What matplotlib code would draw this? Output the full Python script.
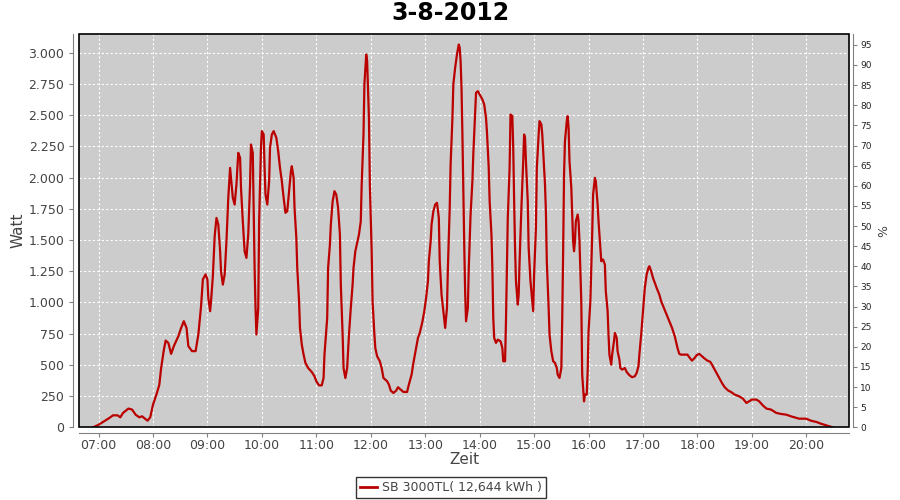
import matplotlib
matplotlib.use("Agg")
import matplotlib.pyplot as plt
import matplotlib.dates as mdates
import matplotlib.ticker as mticker
from matplotlib.lines import Line2D
from matplotlib.patches import Rectangle
from datetime import datetime

title = "3-8-2012"
seriesName = "SB 3000TL( 12,644 kWh )"
day = "2012-08-03"

#readings of the inverter, time of day and watt
times = ["06:54", "07:00", "07:06", "07:12", "07:16", "07:21", "07:24", "07:27", "07:33", "07:37",
         "07:41", "07:45", "07:48", "07:51", "07:54", "07:57", "08:00", "08:04", "08:07", "08:09",
         "08:12", "08:14", "08:17", "08:20", "08:23", "08:28", "08:31", "08:34", "08:37", "08:39",
         "08:43", "08:47", "08:50", "08:53", "08:55", "08:58", "09:00", "09:01", "09:03", "09:04",
         "09:06", "09:08", "09:10", "09:12", "09:14", "09:15", "09:17", "09:19", "09:21", "09:23",
         "09:25", "09:26", "09:28", "09:30", "09:32", "09:34", "09:36", "09:37", "09:39", "09:41",
         "09:43", "09:45", "09:47", "09:48", "09:50", "09:51", "09:52", "09:53", "09:54", "09:56",
         "09:57", "09:59", "10:00", "10:02", "10:03", "10:04", "10:06", "10:08", "10:09", "10:11",
         "10:13", "10:16", "10:18", "10:20", "10:22", "10:24", "10:26", "10:28", "10:30", "10:32",
         "10:33", "10:35", "10:36", "10:38", "10:39", "10:41", "10:42", "10:44", "10:46", "10:48",
         "10:51", "10:55", "10:58", "11:00", "11:03", "11:06", "11:08", "11:09", "11:12", "11:13",
         "11:15", "11:16", "11:18", "11:20", "11:22", "11:24", "11:26", "11:27", "11:29", "11:30",
         "11:32", "11:34", "11:36", "11:38", "11:40", "11:41", "11:43", "11:45", "11:47", "11:49",
         "11:50", "11:52", "11:53", "11:55", "11:56", "11:58", "11:59", "12:01", "12:02", "12:04",
         "12:05", "12:07", "12:10", "12:12", "12:14", "12:18", "12:20", "12:22", "12:25", "12:28",
         "12:30", "12:33", "12:36", "12:40", "12:42", "12:45", "12:47", "12:50", "12:52", "12:54",
         "12:57", "12:59", "13:01", "13:03", "13:04", "13:06", "13:07", "13:09", "13:11", "13:13",
         "13:15", "13:16", "13:18", "13:20", "13:22", "13:24", "13:25", "13:27", "13:28", "13:30",
         "13:31", "13:33", "13:35", "13:37", "13:38", "13:39", "13:40", "13:41", "13:42", "13:43",
         "13:44", "13:45", "13:47", "13:48", "13:50", "13:52", "13:53", "13:55", "13:56", "13:58",
         "14:00", "14:03", "14:05", "14:07", "14:08", "14:10", "14:11", "14:13", "14:14", "14:15",
         "14:16", "14:18", "14:20", "14:23", "14:25", "14:26", "14:28", "14:29", "14:30", "14:31",
         "14:33", "14:34", "14:36", "14:37", "14:38", "14:39", "14:40", "14:42", "14:43", "14:44",
         "14:46", "14:48", "14:49", "14:50", "14:51", "14:53", "14:54", "14:56", "14:58", "14:59",
         "15:00", "15:02", "15:03", "15:05", "15:06", "15:08", "15:09", "15:10", "15:12", "15:13",
         "15:14", "15:16", "15:17", "15:19", "15:21", "15:23", "15:25", "15:26", "15:28", "15:30",
         "15:31", "15:32", "15:33", "15:34", "15:36", "15:37", "15:38", "15:39", "15:41", "15:43",
         "15:44", "15:45", "15:46", "15:48", "15:49", "15:50", "15:52", "15:53", "15:55", "15:56",
         "15:58", "15:59", "16:00", "16:02", "16:03", "16:04", "16:05", "16:07", "16:08", "16:10",
         "16:11", "16:13", "16:14", "16:16", "16:18", "16:19", "16:21", "16:22", "16:23", "16:25",
         "16:26", "16:28", "16:29", "16:31", "16:32", "16:34", "16:35", "16:37", "16:40", "16:42",
         "16:45", "16:48", "16:51", "16:53", "16:55", "16:56", "16:58", "17:00", "17:02", "17:04",
         "17:06", "17:07", "17:09", "17:11", "17:13", "17:15", "17:18", "17:20", "17:23", "17:26",
         "17:29", "17:32", "17:35", "17:38", "17:40", "17:42", "17:46", "17:49", "17:51", "17:54",
         "17:57", "17:59", "18:02", "18:05", "18:08", "18:11", "18:14", "18:16", "18:20", "18:24",
         "18:27", "18:30", "18:34", "18:37", "18:41", "18:46", "18:50", "18:54", "18:57", "19:00",
         "19:05", "19:08", "19:12", "19:16", "19:21", "19:27", "19:32", "19:38", "19:43", "19:49",
         "19:52", "20:00", "20:05", "20:11", "20:16", "20:22", "20:27", "20:29"]

watts = [0, 20, 48, 75, 96, 96, 80, 115, 150, 142,
         100, 80, 88, 70, 53, 80, 180, 267, 340, 475,
         620, 695, 675, 588, 650, 730, 795, 850, 795, 650,
         610, 610, 742, 970, 1185, 1225, 1183, 1036, 930, 1010,
         1210, 1530, 1677, 1624, 1410, 1250, 1143, 1223, 1490, 1838,
         2078, 1998, 1838, 1784, 1944, 2198, 2158, 1918, 1650, 1410,
         1357, 1544, 1944, 2265, 2198, 1731, 1277, 960, 743, 956,
         1650, 2238, 2372, 2345, 2078, 1864, 1784, 1971, 2238, 2345,
         2372, 2318, 2212, 2078, 1971, 1838, 1718, 1731, 1891, 2051,
         2091, 1998, 1758, 1517, 1277, 1010, 796, 662, 582, 516,
         475, 443, 409, 369, 336, 336, 395, 582, 876, 1277,
         1464, 1624, 1811, 1891, 1864, 1758, 1544, 1143, 743, 475,
         395, 475, 743, 956, 1143, 1277, 1410, 1477, 1544, 1650,
         1944, 2345, 2746, 2986, 2933, 2479, 1944, 1410, 1010, 743,
         636, 569, 529, 475, 395, 369, 342, 294, 275, 294,
         321, 302, 283, 283, 342, 422, 516, 636, 716, 756,
         849, 930, 1036, 1170, 1330, 1490, 1624, 1731, 1784, 1798,
         1677, 1330, 1063, 930, 796, 956, 1277, 1758, 2105, 2479,
         2746, 2880, 2986, 3066, 3040, 2933, 2719, 2345, 1891, 1464,
         1090, 849, 956, 1277, 1704, 1971, 2185, 2505, 2679, 2692,
         2666, 2626, 2586, 2479, 2372, 2078, 1811, 1544, 1277, 876,
         716, 676, 702, 689, 636, 529, 529, 849, 1277, 1677,
         2078, 2505, 2492, 2238, 1811, 1437, 1170, 983, 1063, 1330,
         1758, 2131, 2345, 2318, 2131, 1811, 1437, 1170, 1010, 930,
         1223, 1597, 2078, 2345, 2452, 2425, 2345, 2212, 1944, 1731,
         1330, 956, 743, 609, 529, 516, 475, 422, 395, 475,
         876, 1410, 2025, 2292, 2452, 2492, 2398, 2131, 1918, 1490,
         1410, 1490, 1650, 1704, 1650, 1490, 1010, 422, 208, 262,
         262, 449, 769, 1010, 1277, 1544, 1864, 1998, 1971, 1784,
         1650, 1437, 1330, 1344, 1303, 1090, 930, 743, 582, 502,
         582, 689, 756, 716, 609, 542, 475, 462, 475, 443,
         417, 401, 409, 435, 489, 582, 743, 930, 1117, 1223,
         1277, 1290, 1250, 1197, 1157, 1117, 1063, 1010, 956, 903,
         849, 796, 729, 636, 588, 582, 582, 582, 561, 534,
         556, 577, 588, 569, 550, 534, 525, 502, 449, 395,
         355, 321, 294, 283, 262, 248, 230, 195, 208, 222,
         222, 208, 176, 150, 142, 115, 107, 101, 88, 75,
         69, 69, 53, 43, 29, 16, 5, 0]

wattTicks = [0, 250, 500, 750, 1000, 1250, 1500, 1750, 2000, 2250, 2500, 2750, 3000]
percentTicks = [0, 5, 10, 15, 20, 25, 30, 35, 40, 45, 50, 55, 60, 65, 70, 75, 80, 85, 90, 95]
hourTicks = ["07:00", "08:00", "09:00", "10:00", "11:00", "12:00", "13:00",
             "14:00", "15:00", "16:00", "17:00", "18:00", "19:00", "20:00"]


def toDate(t):
    return datetime.strptime(day + " " + t, "%Y-%m-%d %H:%M")


x = [toDate(t) for t in times]

fig = plt.figure(figsize=(9, 5), dpi=100)
ax = fig.add_axes([79 / 900, 1 - 427.3 / 500, 770 / 900, 393.3 / 500])
ax.set_facecolor("#cccccc")
ax.plot(x, watts, color="#bb0000", lw=1.6, zorder=3)

ax.set_xlim(datetime(2012, 8, 3, 6, 38, 30), datetime(2012, 8, 3, 20, 47))
ax.set_ylim(0, 3150)
ax.set_xticks([toDate(h) for h in hourTicks])
ax.xaxis.set_major_formatter(mdates.DateFormatter("%H:%M"))
ax.set_yticks(wattTicks)
ax.yaxis.set_major_formatter(mticker.FuncFormatter(lambda v, p: "{:,}".format(int(v)).replace(",", ".")))
ax.grid(True, color="white", linestyle=(0, (2, 2)), lw=0.8)
ax.set_axisbelow(True)

#axis lines sit a few pixels away from the black plot border
for s in ["top", "right"]:
    ax.spines[s].set_visible(False)
for s in ["left", "bottom"]:
    ax.spines[s].set_position(("outward", 4))
    ax.spines[s].set_color("#808080")
ax.add_patch(Rectangle((0, 0), 1, 1, transform=ax.transAxes, fill=False,
                       ec="black", lw=1.2, zorder=5, clip_on=False))

ax.tick_params(direction="out", length=3, width=0.8, color="#808080",
               labelcolor="#444444", labelsize=9)
ax.tick_params(axis="x", pad=1.5)
ax.set_ylabel("Watt", fontsize=11, color="#444444", labelpad=2)
ax.set_xlabel("Zeit", fontsize=11, color="#444444", labelpad=0)

#right axis in percent
ax2 = ax.twinx()
ax2.set_ylim(0, 97.7)
ax2.set_yticks(percentTicks)
for s in ["top", "left", "bottom"]:
    ax2.spines[s].set_visible(False)
ax2.spines["right"].set_position(("outward", 3))
ax2.spines["right"].set_color("#808080")
ax2.tick_params(direction="out", length=3, width=0.8, color="#808080",
                labelcolor="#222222", labelsize=6.5, pad=2)
ax2.set_ylabel("%", fontsize=9, color="#444444", labelpad=4)

fig.text(0.5, 1 - 13 / 500, title, ha="center", va="center", fontsize=17, fontweight="bold")

leg = fig.legend(handles=[Line2D([], [], color="#bb0000", lw=2)], labels=[seriesName],
                 loc="center", bbox_to_anchor=(451 / 900, 1 - 487.5 / 500), frameon=True,
                 fancybox=False, edgecolor="black", fontsize=9, handlelength=1.4,
                 handletextpad=0.4, borderpad=0.3, labelcolor="#444444")
leg.get_frame().set_linewidth(1)

fig.savefig("out.png", dpi=100)
